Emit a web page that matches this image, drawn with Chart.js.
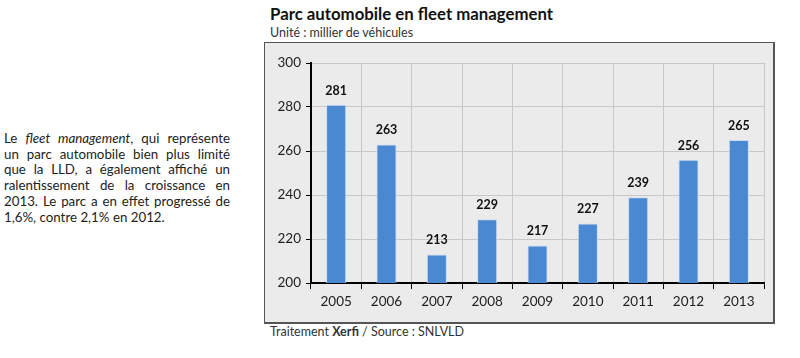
<!DOCTYPE html>
<html>
<head>
<meta charset="utf-8">
<script src="https://cdn.jsdelivr.net/npm/chart.js@4"></script>
<style>
  body { margin: 0; width: 800px; height: 358px; background: #fff; position: relative; overflow: hidden; font-family: Lato, "Open Sans", sans-serif; color: #222; }
  .para { position: absolute; left: 4px; top: 131px; width: 226px; font-size: 13.3px; line-height: 15.7px; }
  .para div { text-align: justify; text-align-last: justify; white-space: nowrap; }
  .para div.last { text-align-last: left; }
  .title { position: absolute; left: 270px; top: 3px; font-size: 16.8px; font-weight: bold; color: #111; }
  .sub { position: absolute; left: 270px; top: 25px; font-size: 12.5px; color: #333; }
  .box { position: absolute; left: 264px; top: 42px; width: 508px; height: 279px; background: #ebebeb; border: 1px solid #555; border-right-width: 2px; border-bottom-width: 2px; }
  .foot { position: absolute; left: 270px; top: 324px; font-size: 12.5px; color: #333; }
</style>
</head>
<body>
<div class="para">
  <div>Le <i>fleet management</i>, qui représente</div>
  <div>un parc automobile bien plus limité</div>
  <div>que la LLD, a également affiché un</div>
  <div>ralentissement de la croissance en</div>
  <div>2013. Le parc a en effet progressé de</div>
  <div class="last">1,6%, contre 2,1% en 2012.</div>
</div>
<div class="title">Parc automobile en fleet management</div>
<div class="sub">Unité : millier de véhicules</div>
<div class="box"><canvas id="c" width="508" height="279"></canvas></div>
<div class="foot">Traitement <b>Xerfi</b> / Source : SNLVLD</div>
<script>
const years = ["2005", "2006", "2007", "2008", "2009", "2010", "2011", "2012", "2013"]
const parc = [281, 263, 213, 229, 217, 227, 239, 256, 265]
const yMin = 200
const yMax = 300
const yStep = 20

// valeurs au-dessus des barres
const barLabels = {
    id: "barLabels",
    afterDatasetsDraw(chart) {
        const ctx = chart.ctx
        ctx.save()
        ctx.font = "bold 12.5px Lato, sans-serif"
        ctx.fillStyle = "#111"
        ctx.textAlign = "center"
        ctx.textBaseline = "bottom"
        chart.getDatasetMeta(0).data.forEach((bar, i) => {
            ctx.fillText(parc[i], bar.x, bar.y - 8)
        })
        ctx.restore()
    },
}

new Chart(document.getElementById("c").getContext("2d"), {
    type: "bar",
    data: {
        labels: years,
        datasets: [
            {
                data: parc,
                backgroundColor: "#4a88d2",
                borderColor: "#c9dcf2",
                borderWidth: 1,
                barPercentage: 0.4,
                categoryPercentage: 1,
            },
        ],
    },
    options: {
        responsive: false,
        animation: false,
        layout: { padding: { top: 20, right: 9, left: 0, bottom: 0 } },
        plugins: { legend: { display: false }, tooltip: { enabled: false } },
        scales: {
            x: {
                grid: { color: "#c8c8c8", offset: true, tickColor: "#000", tickLength: 6 },
                border: { color: "#000", width: 2 },
                ticks: { color: "#222", font: { family: "Lato", size: 13.5 }, padding: 5 },
                afterFit: (s) => { s.height = 39 },
            },
            y: {
                min: yMin,
                max: yMax,
                grid: { color: "#c8c8c8", tickColor: "#000", tickLength: 5 },
                border: { color: "#000", width: 2 },
                ticks: { stepSize: yStep, color: "#222", font: { family: "Lato", size: 13.5 }, padding: 5 },
                afterFit: (s) => { s.width = 46 },
            },
        },
    },
    plugins: [barLabels],
})
</script>
</body>
</html>
